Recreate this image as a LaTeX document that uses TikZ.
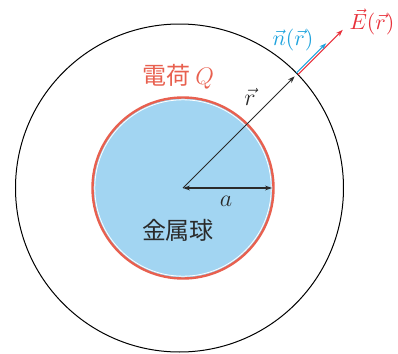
\documentclass[tikz,border=0pt]{standalone}
\usepackage{fontspec}
\newfontfamily\jpfont{Noto Sans CJK JP}
\usetikzlibrary{arrows.meta, calc}
\definecolor{ballblue}{HTML}{A2D5F2}
\definecolor{chargered}{HTML}{E8604F}
\definecolor{fieldred}{HTML}{E8303A}
\definecolor{normalblue}{HTML}{1FA3DD}
\definecolor{inkgray}{HTML}{2A2A2A}

\begin{document}
\begin{tikzpicture}[
  x=0.5pt, y=-0.5pt,
  >={Stealth[length=3.5pt,width=2.4pt]},
  vec/.style={->, line width=0.5pt},
  lbl/.style={inner sep=0pt, font=\fontsize{11}{13}\selectfont},
  biglbl/.style={inner sep=0pt, font=\fontsize{13}{15}\selectfont},
  jp/.style={inner sep=0pt, font=\fontsize{12}{14}\selectfont\jpfont}
]
\useasboundingbox (0,0) rectangle (398,354);

%--- Fixed points (pixel grid, y downwards) ---
\coordinate (ctr)  at (183,188);
\coordinate (octr) at (179.5,188);
\coordinate (rim)  at (272,188);
\coordinate (rtip) at (294.7,76.3);
\coordinate (surf) at (297.2,73.8);
\coordinate (ntip) at (327,44);
\coordinate (etip) at (342,29);

%--- Spheres ---
\draw[line width=0.5pt] (octr) circle[radius=164];
\fill[ballblue] (ctr) circle[radius=90];
\draw[white, line width=0.4pt] (ctr) circle[radius=88.2];
\draw[chargered, line width=1.2pt] (ctr) circle[radius=90.5];

%--- Vectors ---
\draw[vec, inkgray] (ctr) -- (rtip);
\draw[<->, inkgray, line width=1pt] (ctr) -- (rim);
\draw[vec, fieldred]
  ([shift={(0.8,0.8)}]surf) -- ([shift={(0.8,0.8)}]etip);
\draw[vec, normalblue]
  ([shift={(-0.8,-0.8)}]surf) -- ([shift={(-0.8,-0.8)}]ntip);

%--- Labels ---
\node[jp, text=chargered]   (qlbl) at (178,77)  {電荷 $Q$};
\node[biglbl, text=inkgray] (rlbl) at (250,97)  {$\vec{r}$};
\node[biglbl, text=inkgray] (albl) at (226,201) {$a$};
\node[jp, text=inkgray]     (ball) at (178,230) {金属球};
\node[lbl, text=normalblue] (nlbl) at (293,40)  {$\vec{n}(\vec{r})$};
\node[lbl, text=fieldred]   (elbl) at (372,22)  {$\vec{E}(\vec{r})$};

\end{tikzpicture}
\end{document}
